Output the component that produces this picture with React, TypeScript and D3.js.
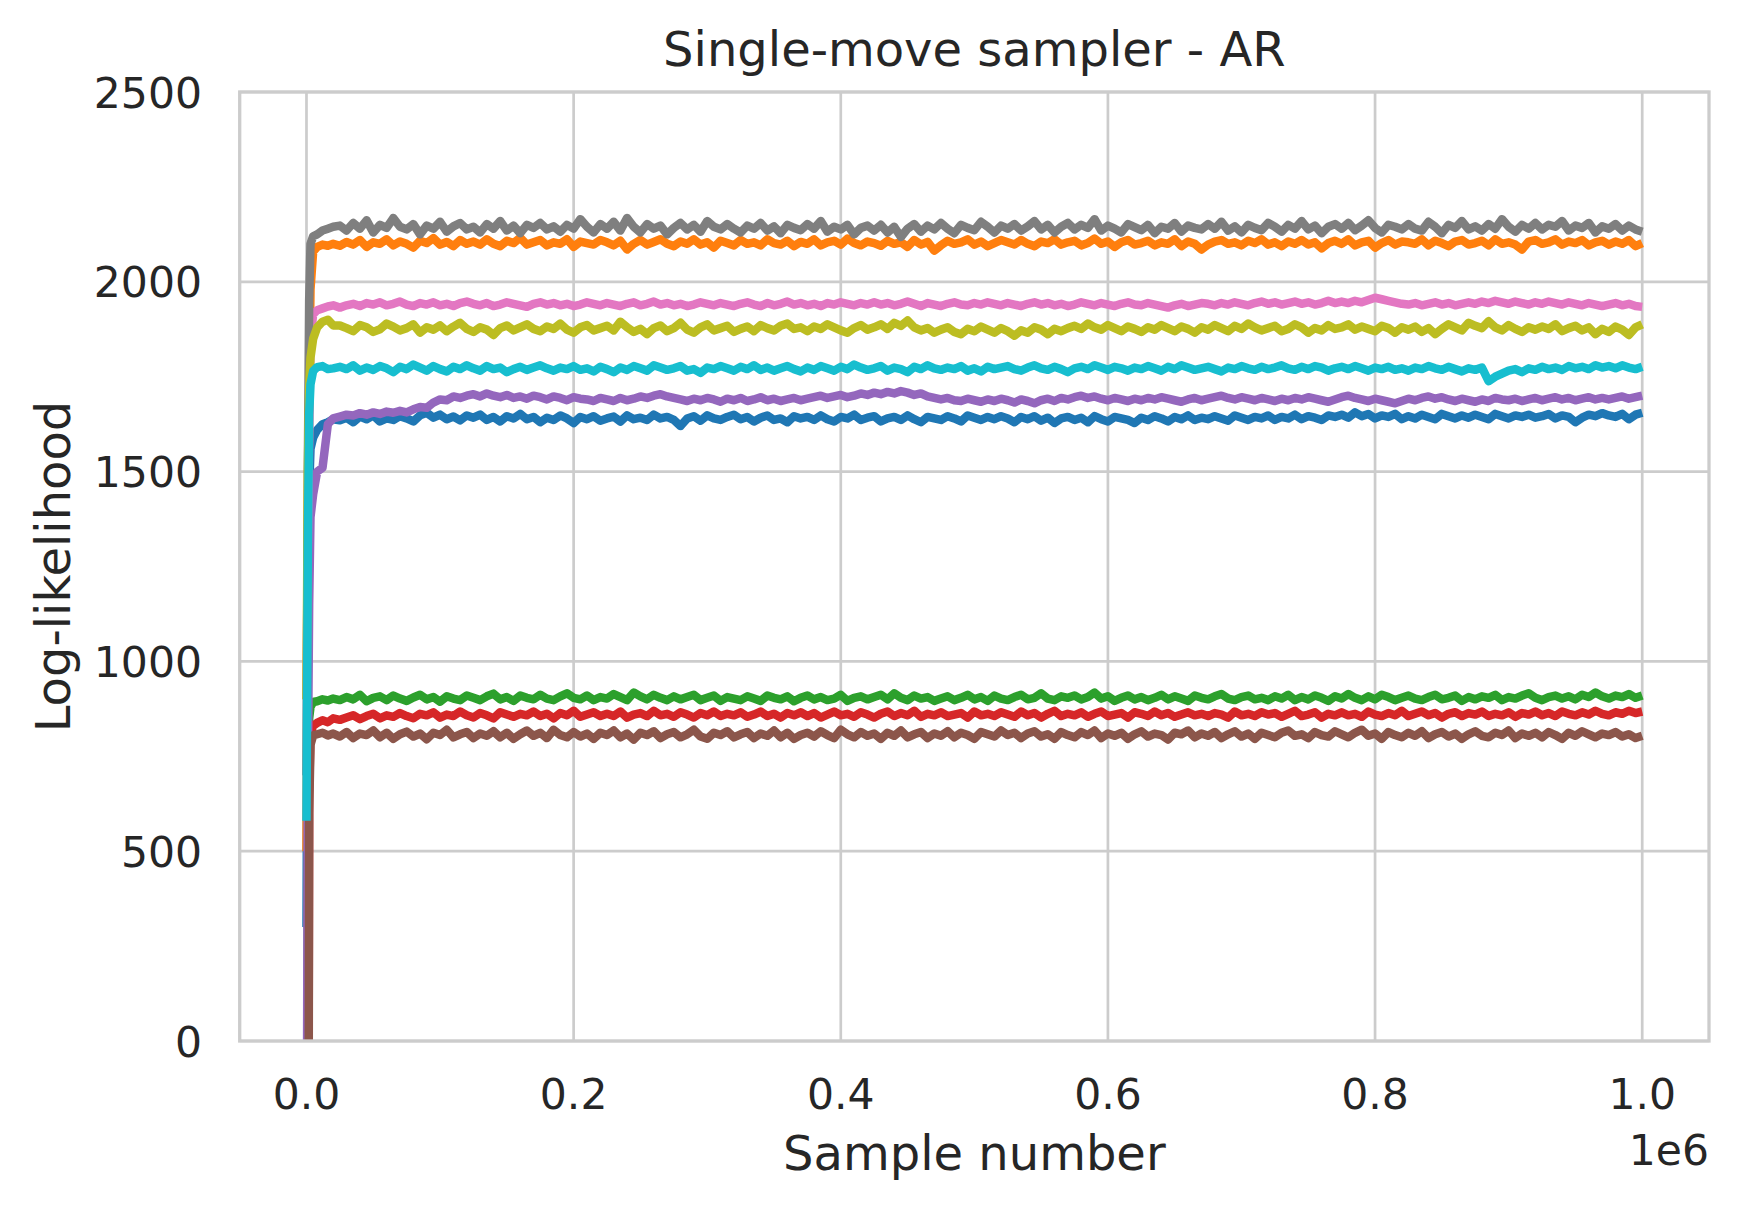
import React from "react";
import * as d3 from "d3";

// ---- Data ----
const earlySamples = [0, 1000, 2000, 3000, 5000, 8000, 12000, 16000, 20000];
const regularSamples = d3.range(25000, 1000001, 5000);
const sampleNumbers = [...earlySamples, ...regularSamples];

const xTicks = [0, 200000, 400000, 600000, 800000, 1000000];
const xTickLabels = ["0.0", "0.2", "0.4", "0.6", "0.8", "1.0"];
const yTicks = [0, 500, 1000, 1500, 2000, 2500];
const yTickLabels = ["0", "500", "1000", "1500", "2000", "2500"];

const seriesColors = ["#1f77b4", "#ff7f0e", "#2ca02c", "#d62728", "#9467bd", "#8c564b", "#e377c2", "#7f7f7f", "#bcbd22", "#17becf"];

const chain0 = [300, 1150, 1450, 1560, 1590, 1610, 1625, 1630, 1638,
  1635, 1642, 1630, 1645, 1638, 1648, 1632, 1640, 1636, 1646,
  1640, 1632, 1648, 1655, 1642, 1650, 1638, 1645, 1635, 1648,
  1642, 1650, 1636, 1644, 1632, 1646, 1640, 1652, 1638, 1644,
  1630, 1642, 1636, 1648, 1640, 1628, 1644, 1638, 1646, 1634,
  1640, 1645, 1632, 1648, 1638, 1642, 1636, 1650, 1640, 1644,
  1636, 1620, 1640, 1646, 1634, 1648, 1640, 1636, 1644, 1650,
  1638, 1644, 1632, 1642, 1648, 1636, 1640, 1630, 1646, 1640,
  1644, 1636, 1648, 1638, 1632, 1644, 1640, 1650, 1636, 1642,
  1646, 1632, 1640, 1644, 1636, 1648, 1638, 1630, 1644, 1640,
  1636, 1646, 1640, 1632, 1648, 1642, 1636, 1644, 1638, 1646,
  1640, 1630, 1644, 1638, 1646, 1634, 1642, 1628, 1640, 1644,
  1636, 1642, 1630, 1646, 1638, 1632, 1644, 1640, 1636, 1628,
  1642, 1636, 1646, 1640, 1632, 1644, 1638, 1648, 1636, 1642,
  1638, 1646, 1640, 1634, 1648, 1642, 1636, 1644, 1640, 1648,
  1636, 1644, 1640, 1650, 1638, 1646, 1642, 1636, 1648, 1644,
  1650, 1642, 1656, 1646, 1652, 1640, 1648, 1644, 1652, 1638,
  1646, 1640, 1650, 1644, 1638, 1652, 1646, 1640, 1648, 1642,
  1650, 1644, 1638, 1652, 1646, 1640, 1648, 1644, 1650, 1642,
  1646, 1652, 1640, 1648, 1644, 1630, 1642, 1650, 1646, 1654,
  1648, 1644, 1652, 1638, 1650, 1655];

const chain1 = [500, 1200, 1700, 1980, 2080, 2092, 2098, 2095, 2100,
  2095, 2105, 2098, 2110, 2092, 2104, 2100, 2112, 2096, 2106,
  2100, 2090, 2108, 2102, 2115, 2098, 2105, 2094, 2110, 2100,
  2106, 2098, 2112, 2100, 2094, 2108, 2102, 2116, 2098, 2104,
  2110, 2096, 2104, 2100, 2112, 2092, 2106, 2102, 2098, 2110,
  2104, 2096, 2108, 2085, 2100, 2110, 2098, 2105, 2112, 2100,
  2094, 2106, 2100, 2112, 2098, 2104, 2090, 2108, 2102, 2096,
  2110, 2100, 2104, 2096, 2112, 2102, 2098, 2108, 2094, 2105,
  2100, 2112, 2096, 2104, 2108, 2098, 2114, 2102, 2096, 2106,
  2102, 2095, 2108, 2100, 2104, 2092, 2110, 2098, 2105, 2082,
  2096, 2108, 2100, 2104, 2112, 2098, 2106, 2094, 2102, 2110,
  2104, 2098, 2110, 2100, 2094, 2106, 2102, 2112, 2098, 2104,
  2108, 2096, 2102, 2114, 2100, 2106, 2092, 2104, 2110, 2098,
  2102, 2108, 2096, 2104, 2100, 2112, 2094, 2106, 2100, 2085,
  2098, 2106, 2110, 2100, 2104, 2096, 2108, 2102, 2112, 2098,
  2104, 2094, 2106, 2100, 2110, 2098, 2104, 2088, 2102, 2108,
  2100, 2112, 2096, 2104, 2108, 2090, 2102, 2110, 2098, 2106,
  2104, 2100, 2112, 2096, 2108, 2102, 2094, 2106, 2110, 2098,
  2102, 2108, 2096, 2112, 2100, 2104, 2098, 2085, 2106, 2110,
  2100, 2104, 2112, 2098, 2106, 2102, 2110, 2096, 2104, 2108,
  2098, 2106, 2100, 2110, 2094, 2102];

const chain2 = [-1000, 400, 850, 880, 893, 895, 900, 897, 902,
  898, 906, 900, 912, 895, 904, 908, 898, 910, 902,
  896, 905, 912, 900, 906, 894, 908, 902, 898, 910,
  904, 898, 908, 915, 900, 906, 896, 910, 904, 900,
  912, 902, 898, 908, 916, 904, 900, 910, 898, 906,
  902, 914, 906, 898, 918, 908, 900, 912, 904, 898,
  908, 900, 906, 912, 898, 904, 910, 896, 906, 902,
  898, 908, 902, 896, 910, 904, 900, 908, 895, 904,
  910, 900, 906, 898, 902, 912, 896, 904, 908, 900,
  906, 912, 900, 916, 904, 898, 910, 902, 906, 896,
  902, 908, 898, 904, 912, 900, 906, 896, 910, 902,
  898, 906, 912, 900, 904, 916, 902, 898, 908, 904,
  910, 900, 906, 918, 902, 908, 896, 904, 910, 900,
  906, 898, 904, 912, 900, 908, 902, 896, 910, 904,
  900, 908, 914, 902, 898, 906, 910, 900, 904, 898,
  908, 902, 912, 898, 906, 900, 910, 904, 896, 908,
  902, 914, 904, 898, 908, 900, 912, 906, 898, 904,
  910, 902, 898, 906, 912, 900, 904, 910, 896, 906,
  900, 908, 904, 912, 898, 906, 902, 910, 916, 904,
  898, 906, 910, 902, 908, 900, 912, 906, 918, 908,
  902, 910, 906, 914, 904, 910];

const chain3 = [-6000, -1200, 650, 810, 830, 838, 845, 840, 850,
  846, 852, 858, 848, 856, 862, 850, 858, 854, 864,
  856, 850, 862, 858, 866, 852, 860, 856, 868, 858,
  852, 864, 858, 850, 866, 860, 854, 862, 858, 868,
  856, 862, 850, 864, 858, 870, 854, 860, 866, 856,
  862, 856, 868, 852, 860, 864, 856, 870, 858, 862,
  854, 866, 860, 852, 864, 858, 868, 856, 862, 858,
  866, 854, 860, 868, 856, 862, 852, 864, 858, 866,
  856, 864, 852, 860, 868, 858, 862, 854, 866, 860,
  852, 862, 868, 856, 864, 858, 870, 854, 862, 858,
  866, 856, 860, 864, 852, 868, 858, 862, 856, 866,
  860, 854, 868, 858, 864, 852, 862, 870, 856, 862,
  858, 866, 854, 862, 868, 856, 860, 864, 852, 866,
  862, 856, 868, 858, 864, 854, 860, 866, 858, 862,
  856, 864, 860, 852, 868, 858, 862, 856, 866, 860,
  864, 854, 862, 870, 856, 860, 866, 852, 862, 858,
  866, 858, 862, 854, 868, 860, 856, 864, 858, 870,
  856, 862, 868, 858, 864, 852, 862, 866, 856, 864,
  860, 868, 856, 862, 858, 866, 854, 864, 860, 868,
  858, 864, 856, 868, 862, 858, 866, 860, 870, 862,
  858, 866, 862, 870, 864, 868];

const chain4 = [-600, 700, 1150, 1380, 1440, 1500, 1510, 1625, 1640,
  1645, 1650, 1648, 1654, 1650, 1656, 1652, 1658, 1655, 1660,
  1656, 1664, 1670, 1668, 1682, 1690, 1688, 1698, 1694, 1700,
  1704, 1698, 1706, 1700, 1696, 1702, 1694, 1698, 1692, 1700,
  1696, 1690, 1698, 1694, 1688, 1696, 1692, 1690, 1686, 1694,
  1690, 1686, 1694, 1688, 1692, 1698, 1694, 1700, 1704, 1698,
  1694, 1690, 1686, 1692, 1688, 1694, 1690, 1684, 1692, 1688,
  1694, 1686, 1690, 1696, 1688, 1692, 1686, 1690, 1694, 1688,
  1692, 1696, 1700, 1694, 1698, 1702, 1696, 1700, 1706, 1702,
  1708, 1704, 1710, 1706, 1712, 1708, 1702, 1706, 1698, 1694,
  1690, 1694, 1688, 1686, 1692, 1688, 1684, 1690, 1686, 1692,
  1688, 1682, 1690, 1686, 1680, 1688, 1692, 1686, 1694, 1690,
  1696, 1700, 1694, 1698, 1692, 1688, 1694, 1690, 1686, 1692,
  1688, 1694, 1690, 1696, 1692, 1688, 1684, 1690, 1694, 1688,
  1692, 1696, 1700, 1694, 1690, 1696, 1692, 1688, 1694, 1690,
  1686, 1692, 1688, 1694, 1690, 1696, 1692, 1688, 1684, 1690,
  1696, 1700, 1694, 1690, 1686, 1692, 1688, 1684, 1680, 1686,
  1692, 1688, 1694, 1698, 1692, 1696, 1690, 1686, 1692, 1688,
  1684, 1690, 1686, 1694, 1690, 1688, 1692, 1686, 1690, 1694,
  1688, 1692, 1696, 1690, 1694, 1688, 1692, 1696, 1690, 1694,
  1690, 1694, 1698, 1692, 1696, 1700];

const chain5 = [-6000, -1500, 600, 780, 805, 808, 812, 805, 810,
  802, 814, 798, 810, 806, 818, 800, 812, 796, 808,
  815, 802, 810, 795, 812, 806, 820, 800, 808, 814,
  798, 810, 804, 816, 800, 812, 796, 808, 818, 804,
  812, 798, 820, 806, 800, 814, 802, 810, 796, 812,
  806, 818, 800, 810, 794, 812, 806, 816, 798, 808,
  814, 800, 808, 820, 802, 796, 812, 806, 816, 800,
  808, 814, 798, 810, 804, 818, 800, 812, 796, 806,
  812, 802, 816, 806, 798, 820, 808, 800, 814, 804,
  810, 796, 812, 804, 818, 800, 808, 814, 798, 810,
  804, 816, 800, 812, 806, 796, 814, 808, 802, 818,
  806, 812, 798, 810, 816, 802, 808, 796, 814, 806,
  800, 814, 806, 818, 798, 810, 804, 812, 796, 808,
  816, 802, 810, 806, 794, 812, 808, 818, 800, 810,
  804, 814, 798, 808, 816, 802, 810, 796, 812, 806,
  800, 812, 818, 804, 808, 798, 814, 806, 802, 816,
  808, 800, 812, 820, 804, 810, 796, 814, 806, 800,
  812, 804, 816, 798, 808, 814, 802, 810, 796, 808,
  816, 804, 800, 812, 806, 818, 798, 810, 804, 812,
  800, 814, 806, 796, 812, 804, 816, 808, 800, 810,
  806, 814, 802, 808, 798, 804];

const chain6 = [900, 1300, 1600, 1850, 1915, 1925, 1930, 1935, 1938,
  1932, 1938, 1942, 1936, 1944, 1940, 1946, 1938, 1942, 1948,
  1940, 1936, 1944, 1940, 1946, 1938, 1942, 1936, 1944, 1948,
  1942, 1938, 1944, 1936, 1940, 1946, 1942, 1938, 1934, 1942,
  1946, 1940, 1944, 1938, 1942, 1936, 1940, 1946, 1942, 1938,
  1944, 1940, 1936, 1942, 1946, 1938, 1942, 1948, 1940, 1944,
  1938, 1942, 1936, 1940, 1946, 1942, 1938, 1944, 1940, 1936,
  1942, 1946, 1940, 1936, 1944, 1938, 1942, 1948, 1940, 1944,
  1938, 1942, 1936, 1944, 1940, 1946, 1942, 1938, 1944, 1940,
  1946, 1940, 1944, 1938, 1942, 1948, 1942, 1936, 1944, 1940,
  1936, 1942, 1946, 1940, 1938, 1944, 1940, 1946, 1942, 1938,
  1944, 1940, 1936, 1942, 1946, 1940, 1944, 1938, 1942, 1936,
  1940, 1946, 1942, 1938, 1944, 1940, 1936, 1942, 1946, 1940,
  1938, 1944, 1940, 1936, 1932, 1938, 1942, 1936, 1940, 1944,
  1942, 1938, 1944, 1940, 1946, 1942, 1938, 1944, 1948, 1942,
  1946, 1940, 1944, 1948, 1942, 1946, 1940, 1944, 1950, 1944,
  1948, 1944, 1950, 1946, 1952, 1958, 1954, 1950, 1946, 1942,
  1940, 1944, 1938, 1942, 1946, 1940, 1944, 1938, 1942, 1946,
  1942, 1948, 1944, 1950, 1946, 1942, 1948, 1944, 1940, 1946,
  1942, 1948, 1944, 1940, 1946, 1942, 1938, 1944, 1940, 1936,
  1940, 1944, 1938, 1942, 1936, 1934];

const chain7 = [700, 1500, 1950, 2100, 2120, 2125, 2135, 2140, 2145,
  2148, 2135, 2155, 2140, 2162, 2130, 2150, 2142, 2168, 2145,
  2138, 2152, 2125, 2148, 2140, 2158, 2132, 2146, 2155, 2138,
  2145, 2130, 2152, 2140, 2160, 2135, 2148, 2128, 2150, 2142,
  2155, 2138, 2146, 2132, 2150, 2140, 2165, 2145, 2130, 2152,
  2140, 2158, 2135, 2168, 2145, 2130, 2152, 2140, 2148, 2125,
  2142, 2155, 2138, 2150, 2132, 2160, 2145, 2138, 2152, 2140,
  2130, 2148, 2140, 2155, 2135, 2146, 2128, 2150, 2142, 2136,
  2152, 2140, 2160, 2132, 2145, 2138, 2150, 2125, 2142, 2148,
  2135, 2150, 2130, 2145, 2118, 2140, 2152, 2132, 2148, 2138,
  2155, 2140, 2128, 2150, 2142, 2136, 2158, 2145, 2130, 2148,
  2140, 2152, 2135, 2146, 2160, 2138, 2150, 2130, 2145, 2155,
  2138, 2150, 2142, 2165, 2135, 2148, 2140, 2130, 2152, 2144,
  2136, 2150, 2128, 2145, 2140, 2155, 2132, 2148, 2142, 2138,
  2152, 2140, 2158, 2135, 2146, 2130, 2150, 2142, 2136, 2155,
  2145, 2132, 2150, 2140, 2160, 2138, 2148, 2128, 2145, 2152,
  2140, 2155, 2136, 2148, 2162, 2142, 2130, 2150, 2145, 2138,
  2152, 2140, 2135, 2158, 2145, 2128, 2150, 2142, 2160, 2138,
  2146, 2135, 2152, 2140, 2165, 2145, 2132, 2150, 2140, 2155,
  2138, 2150, 2145, 2160, 2135, 2148, 2142, 2155, 2130, 2146,
  2140, 2152, 2135, 2148, 2138, 2132];

const chain8 = [900, 1500, 1720, 1800, 1850, 1880, 1895, 1900, 1885,
  1885, 1878, 1870, 1886, 1880, 1868, 1875, 1890, 1882, 1872,
  1878, 1888, 1866, 1880, 1874, 1885, 1870, 1882, 1892, 1876,
  1868, 1880, 1874, 1860, 1878, 1885, 1872, 1880, 1888, 1876,
  1870, 1882, 1876, 1890, 1874, 1866, 1880, 1886, 1872, 1878,
  1884, 1872, 1895, 1880, 1868, 1876, 1862, 1878, 1885, 1870,
  1878, 1892, 1874, 1866, 1880, 1888, 1872, 1878, 1884, 1868,
  1876, 1882, 1870, 1886, 1878, 1872, 1884, 1890, 1876, 1880,
  1870, 1882, 1876, 1888, 1880, 1872, 1866, 1878, 1886, 1874,
  1880, 1888, 1876, 1892, 1884, 1898, 1880, 1872, 1878, 1866,
  1874, 1880, 1868, 1862, 1876, 1870, 1882, 1874, 1866, 1878,
  1870, 1858, 1872, 1866, 1880, 1874, 1862, 1876, 1870, 1878,
  1884, 1876, 1890, 1880, 1874, 1886, 1878, 1870, 1882, 1876,
  1868, 1880, 1874, 1886, 1878, 1870, 1882, 1876, 1866, 1880,
  1874, 1886, 1878, 1870, 1884, 1876, 1890, 1880, 1872, 1878,
  1884, 1870, 1876, 1888, 1880, 1866, 1878, 1872, 1886, 1876,
  1880, 1888, 1874, 1882, 1876, 1870, 1884, 1878, 1866, 1880,
  1874, 1882, 1868, 1878, 1862, 1876, 1888, 1880, 1872, 1892,
  1884, 1878, 1896, 1880, 1872, 1886, 1876, 1868, 1880, 1874,
  1882, 1876, 1888, 1870, 1878, 1884, 1872, 1880, 1862, 1876,
  1868, 1882, 1874, 1860, 1880, 1888];

const chain9 = [580, 1300, 1650, 1730, 1765, 1775, 1778, 1770, 1772,
  1776, 1770, 1780, 1766, 1774, 1768, 1778, 1772, 1762, 1776,
  1770, 1782, 1774, 1766, 1778, 1770, 1764, 1776, 1770, 1780,
  1772, 1766, 1778, 1770, 1774, 1762, 1770, 1776, 1768, 1774,
  1780, 1772, 1766, 1774, 1770, 1778, 1768, 1772, 1764, 1776,
  1770, 1762, 1774, 1768, 1778, 1772, 1766, 1780, 1774, 1768,
  1772, 1778, 1766, 1770, 1760, 1774, 1770, 1778, 1772, 1766,
  1776, 1770, 1780, 1768, 1774, 1766, 1772, 1778, 1770, 1764,
  1774, 1768, 1778, 1772, 1766, 1776, 1770, 1782, 1774, 1768,
  1772, 1778, 1766, 1774, 1770, 1762, 1776, 1770, 1780, 1772,
  1768, 1774, 1770, 1778, 1766, 1772, 1764, 1776, 1770, 1774,
  1778, 1770, 1766, 1774, 1780, 1772, 1768, 1776, 1770, 1762,
  1772, 1776, 1770, 1780, 1774, 1768, 1776, 1772, 1766, 1774,
  1770, 1778, 1772, 1766, 1776, 1770, 1780, 1774, 1768, 1772,
  1776, 1770, 1764, 1774, 1770, 1778, 1772, 1768, 1776, 1770,
  1774, 1780, 1772, 1768, 1776, 1770, 1778, 1774, 1766, 1772,
  1776, 1770, 1778, 1772, 1766, 1774, 1770, 1776, 1768, 1772,
  1766, 1774, 1770, 1778, 1772, 1768, 1776, 1770, 1764, 1772,
  1768, 1774, 1738, 1750, 1758, 1766, 1770, 1762, 1772, 1768,
  1776, 1770, 1774, 1768, 1778, 1772, 1776, 1770, 1780, 1774,
  1778, 1772, 1780, 1774, 1770, 1776];

const chains = [chain0, chain1, chain2, chain3, chain4, chain5, chain6, chain7, chain8, chain9];

// ---- Layout ----
const W = 1740;
const H = 1212;
const left = 239.7;
const right = 1709;
const top = 92;
const bottom = 1041;
const FONT = "'DejaVu Sans', sans-serif";
const TEXT = "#262626";
const GRID = "#cccccc";

export default function App() {
  const x = d3.scaleLinear().domain([-50000, 1050000]).range([left, right]);
  const y = d3.scaleLinear().domain([0, 2500]).range([bottom, top]);
  const line = d3
    .line<number>()
    .x((_, i) => x(sampleNumbers[i]))
    .y((d) => y(d));

  return (
    <svg
      width={W}
      height={H}
      viewBox={`0 0 ${W} ${H}`}
      style={{ position: "absolute", left: 0, top: 0, background: "#ffffff" }}
    >
      <defs>
        <clipPath id="plotClip">
          <rect x={left} y={top} width={right - left} height={bottom - top} />
        </clipPath>
      </defs>
      <rect x={0} y={0} width={W} height={H} fill="#ffffff" />
      {yTicks.map((t) => (
        <line key={"gy" + t} x1={left} x2={right} y1={y(t)} y2={y(t)} stroke={GRID} strokeWidth={2.7} />
      ))}
      {xTicks.map((t) => (
        <line key={"gx" + t} x1={x(t)} x2={x(t)} y1={top} y2={bottom} stroke={GRID} strokeWidth={2.7} />
      ))}
      <g clipPath="url(#plotClip)">
        {chains.map((c, i) => (
          <path
            key={"c" + i}
            d={line(c) || ""}
            fill="none"
            stroke={seriesColors[i]}
            strokeWidth={8.5}
            strokeLinejoin="round"
            strokeLinecap="butt"
          />
        ))}
      </g>
      <rect x={left} y={top} width={right - left} height={bottom - top} fill="none" stroke={GRID} strokeWidth={3.3} />
      {yTicks.map((t, i) => (
        <text key={"ty" + t} x={202} y={y(t) + 15.5} textAnchor="end" fontFamily={FONT} fontSize={42.5} fill={TEXT}>
          {yTickLabels[i]}
        </text>
      ))}
      {xTicks.map((t, i) => (
        <text key={"tx" + t} x={x(t)} y={1109} textAnchor="middle" fontFamily={FONT} fontSize={42.5} fill={TEXT}>
          {xTickLabels[i]}
        </text>
      ))}
      <text x={right} y={1165} textAnchor="end" fontFamily={FONT} fontSize={42.5} fill={TEXT}>
        1e6
      </text>
      <text x={(left + right) / 2} y={1170} textAnchor="middle" fontFamily={FONT} fontSize={48} fill={TEXT}>
        Sample number
      </text>
      <text
        transform={`translate(70, ${(top + bottom) / 2}) rotate(-90)`}
        textAnchor="middle"
        fontFamily={FONT}
        fontSize={48}
        fill={TEXT}
      >
        Log-likelihood
      </text>
      <text x={(left + right) / 2} y={66} textAnchor="middle" fontFamily={FONT} fontSize={48} fill={TEXT}>
        Single-move sampler - AR
      </text>
    </svg>
  );
}
